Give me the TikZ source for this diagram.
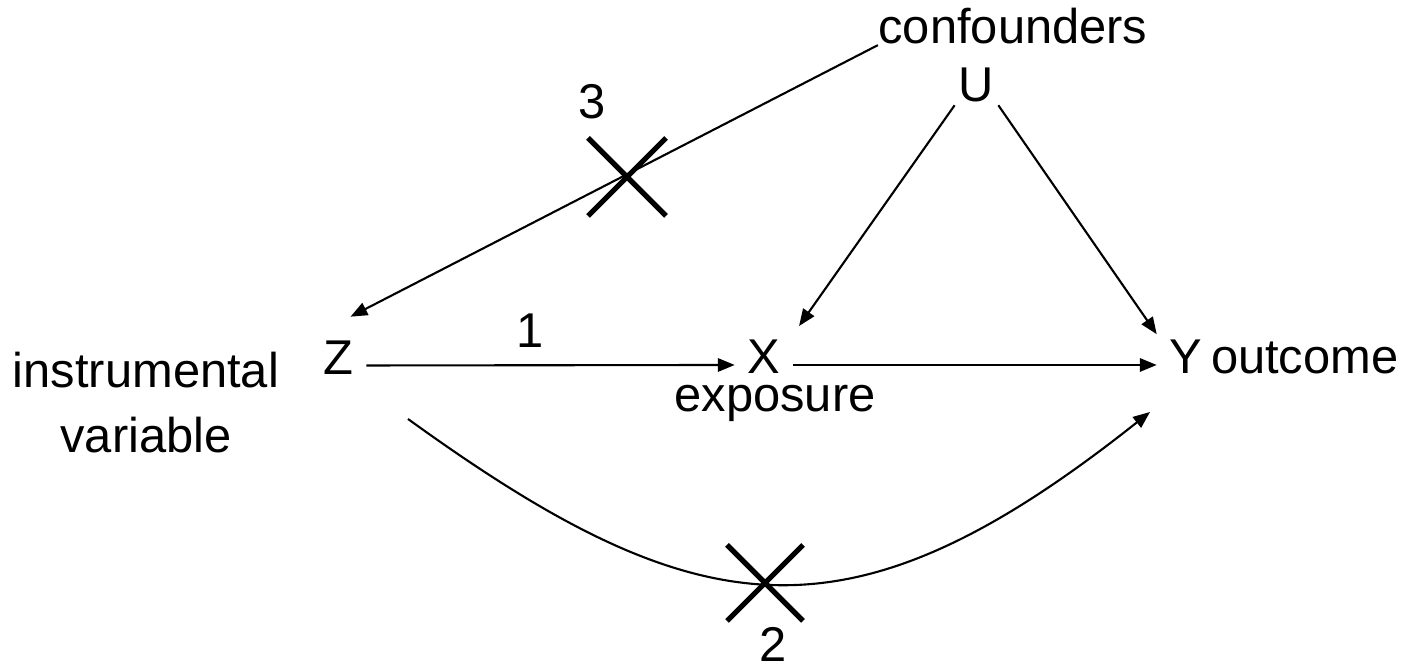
\documentclass[tikz,border=0pt]{standalone}
\usepackage{fontspec}
\setmainfont{Liberation Sans}
\usetikzlibrary{arrows.meta}
\tikzset{
  arr/.style={-{Triangle[length=4.8pt,width=3.8pt]}, line width=0.6pt},
  txt/.style={font=\fontsize{13.9}{18.5}\selectfont, inner sep=0pt},
  var/.style={font=\fontsize{13.9}{18.5}\selectfont, inner xsep=3.5pt, inner ysep=1pt,
              text height=10pt, text depth=0pt},
  blocked/.style={line width=1.5pt},
}
\begin{document}
\begin{tikzpicture}
    \useasboundingbox (0,0) rectangle (14.02,6.68);

    % Variables
    \node[var, inner xsep=1pt] (U) at (9.765, 5.845) {U};
    \node[txt, anchor=base] (conf) at (10.13, 6.24) {confounders};
    \node[var] (Z) at (3.385, 3.115) {Z};
    \node[txt, align=center] (inst) at (1.46, 2.655) {instrumental\\variable};
    \node[var] (X) at (7.64, 3.12) {X};
    \node[txt, anchor=base] (expo) at (7.75, 2.56) {exposure};
    \node[var] (Y) at (11.86, 3.12) {Y};
    \node[txt, anchor=base west] (outc) at ([xshift=-0.05cm]Y.base east) {outcome};

    % Causal arrows
    \draw[arr] ([yshift=-0.09cm]Z.east) -- ([yshift=-0.09cm]X.west);
    \node[txt] (one) at (5.30, 3.37) {1};
    \draw[arr] ([yshift=-0.09cm]X.east) -- ([yshift=-0.09cm]Y.west);
    \draw[arr, shorten >=0.1cm] (U.south west) -- (X.north east);
    \draw[arr] (U.south east) -- (Y.north west);
    \draw[arr] (conf.south west) -- ([shift={(0.12,0.18)}]Z.north);
    \draw[arr] ([shift={(0.695,-0.625)}]Z.center) .. controls (7.00, 0.38) and (8.50, 0.18) .. ([shift={(-0.36,-0.56)}]Y.center);

    % Violated assumptions
    \coordinate (cut3) at (6.27, 4.91);
    \coordinate (cut2) at (7.65, 0.85);
    \draw[blocked] (cut3) +(-0.39,-0.39) -- +(0.39,0.39) +(-0.39,0.39) -- +(0.39,-0.39);
    \draw[blocked] (cut2) +(-0.38,-0.38) -- +(0.38,0.38) +(-0.38,0.38) -- +(0.38,-0.38);
    \node[txt] (three) at (5.92, 5.66) {3};
    \node[txt] (two) at (7.73, 0.24) {2};
\end{tikzpicture}
\end{document}
